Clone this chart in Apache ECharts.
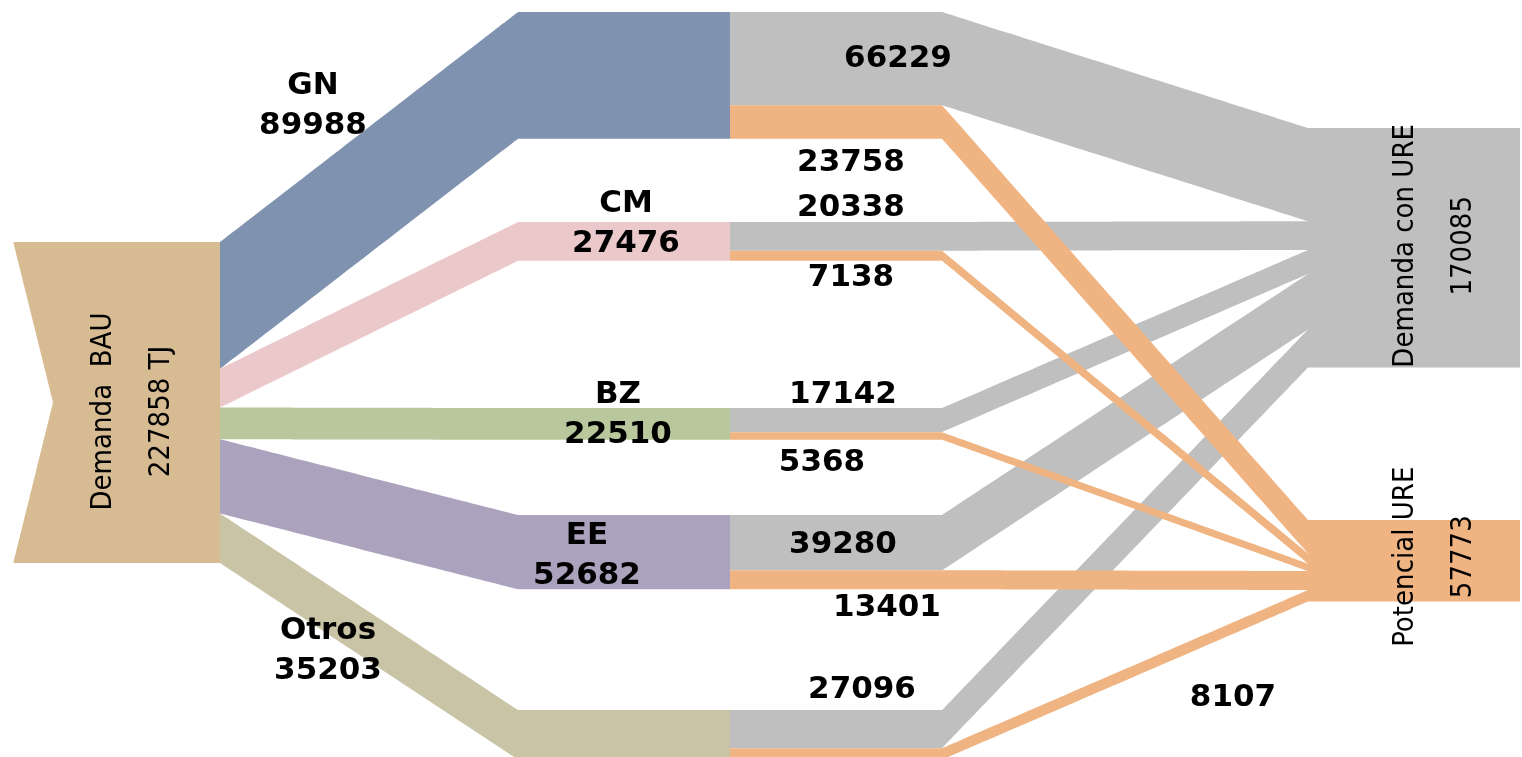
<!DOCTYPE html>
<html>
<head>
<meta charset="utf-8">
<title>Demanda BAU y potencial URE</title>
<script src="https://cdn.jsdelivr.net/npm/echarts@6/dist/echarts.min.js"></script>
<style>
  html, body { margin: 0; padding: 0; background: #fff; }
  #main { width: 1522px; height: 757px; }
</style>
</head>
<body>
<div id="main"></div>
<script>
// datos (TJ)
const totalName = 'Demanda BAU';
const totalValue = 227858;
const sources = ['GN', 'CM', 'BZ', 'EE', 'Otros'];
const sourceValues = [89988, 27476, 22510, 52682, 35203];
const sinks = ['Demanda con URE', 'Potencial URE'];
const sinkValues = [170085, 57773];
const toDemandaURE = [66229, 20338, 17142, 39280, 27096];
const toPotencialURE = [23758, 7138, 5368, 13401, 8107];

// colores
const bauColor = '#d7bb93';
const sourceColors = ['#7f92b0', '#ebc9ca', '#b8c89c', '#aba2bd', '#c9c4a6'];
const grayColor = '#bfbfbf';
const orangeColor = '#f0b482';

// disposicion (px) del dibujo original
const W = 1522, H = 757;
const nodeW = 212;
const colX = [8, 518, 730, 1308];
const bauTop = 242;
const sourceTops = [12, 222, 408, 515, 710];
const sinkTops = [128, 520];
const bauHeight = 321;
const pxPerUnit = bauHeight / totalValue;
// la columna de 10 nodos (reparto) es la que fija la escala
const nodeGap = (H - bauHeight) / (sources.length * 2 - 1);
const notchDepth = 40;

// desplazamientos de etiquetas respecto al centro del nodo
// (en las giradas el desplazamiento va en el marco girado)
const bauLabelOffset = [-9, 18];
const sinkLabelOffsets = [[2, 20], [4, 20]];
const sourceLabelOffsets = [[-311, 31], [2, -17], [-6, -9], [-37, 4], [-296, -84]];
const grayLabelOffsets = [[62, 0], [15, -28], [7, -25], [7, 2], [26, -39]];
const orangeLabelOffsets = [[15, 41], [15, 22], [-14, 27], [51, 28], [397, -56]];

const narrowFont = '"Liberation Sans Narrow", "DejaVu Sans Condensed", sans-serif';
const textFont = '"DejaVu Sans", sans-serif';

function rotatedLabel(text, offset) {
  return {
    show: true, position: 'inside', rotate: 90, offset: offset,
    formatter: text, color: '#000',
    fontFamily: narrowFont, fontSize: 29, lineHeight: 58
  };
}
function flatLabel(text, offset) {
  return {
    show: true, position: 'inside', offset: offset,
    formatter: text, color: '#000',
    fontFamily: textFont, fontWeight: 'bold', fontSize: 31, lineHeight: 40
  };
}
const grayName = i => sources[i] + ' → ' + sinks[0];
const orangeName = i => sources[i] + ' → ' + sinks[1];

const nodes = [];
nodes.push({
  name: totalName, localX: colX[0] / W, localY: bauTop / H,
  itemStyle: { color: bauColor },
  label: rotatedLabel('Demanda  BAU\n' + totalValue + ' TJ', bauLabelOffset)
});
sources.forEach((s, i) => {
  nodes.push({
    name: s, localX: colX[1] / W, localY: sourceTops[i] / H,
    itemStyle: { color: sourceColors[i] },
    label: flatLabel(s + '\n' + sourceValues[i], sourceLabelOffsets[i])
  });
});
sources.forEach((s, i) => {
  const grayTop = sourceTops[i];
  const orangeTop = grayTop + toDemandaURE[i] * pxPerUnit;
  nodes.push({
    name: grayName(i), localX: colX[2] / W, localY: grayTop / H,
    itemStyle: { color: grayColor },
    label: flatLabel(String(toDemandaURE[i]), grayLabelOffsets[i])
  });
  nodes.push({
    name: orangeName(i), localX: colX[2] / W, localY: orangeTop / H,
    itemStyle: { color: orangeColor },
    label: flatLabel(String(toPotencialURE[i]), orangeLabelOffsets[i])
  });
});
sinks.forEach((s, i) => {
  nodes.push({
    name: s, localX: colX[3] / W, localY: sinkTops[i] / H,
    itemStyle: { color: i === 0 ? grayColor : orangeColor },
    label: rotatedLabel(s + '\n' + sinkValues[i], sinkLabelOffsets[i])
  });
});

const links = [];
sources.forEach((s, i) => {
  links.push({ source: totalName, target: s, value: sourceValues[i], lineStyle: { color: sourceColors[i] } });
});
sources.forEach((s, i) => {
  links.push({ source: s, target: grayName(i), value: toDemandaURE[i], lineStyle: { color: grayColor } });
  links.push({ source: s, target: orangeName(i), value: toPotencialURE[i], lineStyle: { color: orangeColor } });
});
// gris primero, naranja encima
sources.forEach((s, i) => {
  links.push({ source: grayName(i), target: sinks[0], value: toDemandaURE[i], lineStyle: { color: grayColor } });
});
sources.forEach((s, i) => {
  links.push({ source: orangeName(i), target: sinks[1], value: toPotencialURE[i], lineStyle: { color: orangeColor } });
});

// muesca de flecha en el lado izquierdo de Demanda BAU
const nx = colX[0] - 1, nTop = bauTop - 1, nBot = bauTop + bauHeight + 1;
const notch = [[nx, nTop], [nx + 6, nTop], [nx + 6 + notchDepth, bauTop + bauHeight / 2], [nx + 6, nBot], [nx, nBot]];

const chart = echarts.init(document.getElementById('main'));
chart.setOption({
  backgroundColor: '#fff',
  animation: false,
  series: [{
    type: 'sankey',
    left: 0, top: 0, right: 0, bottom: 0,
    nodeWidth: nodeW,
    nodeGap: nodeGap,
    layoutIterations: 0,
    draggable: false,
    emphasis: { disabled: true },
    itemStyle: { borderWidth: 0 },
    lineStyle: { opacity: 1, curveness: 0 },
    data: nodes,
    links: links
  }],
  graphic: [{
    type: 'polygon',
    shape: { points: notch },
    style: { fill: '#fff' },
    z: 10
  }]
});
</script>
</body>
</html>
